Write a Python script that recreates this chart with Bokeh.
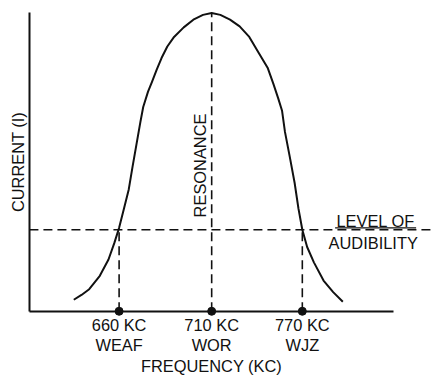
import math
from bokeh.plotting import figure
from bokeh.models import Range1d, FixedTicker
from bokeh.core.properties import value
from bokeh.embed import file_html
from bokeh.resources import INLINE

# Schematic resonance curve (arbitrary units: horizontal position, current)
curve_x = [46, 54, 62, 73, 82, 88, 93, 98, 103, 107, 111, 115, 118, 123, 127, 132, 137,
           143, 150, 160, 170, 180, 189,
           198, 208, 218, 228, 238, 247, 253, 258, 262, 265, 270, 275, 279, 283, 288,
           295, 305, 315, 325]
curve_y = [12, 17, 23, 37, 54, 71, 87, 107, 127, 151, 174, 197, 213, 229, 239, 252, 264,
           276, 286, 296, 304, 309, 311,
           309, 304, 297, 286, 269, 254, 237, 222, 209, 187, 161, 134, 107, 85, 67,
           51, 32, 20, 10]

station_x = [93, 189, 283]
freq_labels = ["660 KC", "710 KC", "770 KC"]
station_labels = ["WEAF", "WOR", "WJZ"]

resonance_x = 189
peak_current = 311
audibility_level = 85
x_axis_end = 378
level_line_end = 418

FONT = "Liberation Sans"
FS = "16.4px"
BLACK = "#111111"

p = figure(width=432, height=376, x_range=Range1d(-30, 418), y_range=Range1d(-68, 324),
           output_backend="svg", toolbar_location=None, min_border=0)
p.outline_line_color = None
p.grid.visible = False
p.background_fill_color = "white"
p.border_fill_color = "white"

# x axis
xa = p.xaxis[0]
xa.fixed_location = 0
xa.bounds = (0, x_axis_end)
xa.ticker = FixedTicker(ticks=station_x)
xa.major_label_overrides = {sx: f"{f}\n{s}" for sx, f, s in zip(station_x, freq_labels, station_labels)}
xa.major_tick_in = 0
xa.major_tick_out = 0
xa.minor_tick_line_color = None
xa.axis_line_width = 2
xa.axis_line_color = BLACK
xa.major_label_text_font = FONT
xa.major_label_text_font_size = FS
xa.major_label_text_color = BLACK
xa.major_label_text_line_height = 1.08
xa.major_label_standoff = 5
xa.axis_label = "FREQUENCY (KC)"
xa.axis_label_text_font = FONT
xa.axis_label_text_font_size = FS
xa.axis_label_text_font_style = "normal"
xa.axis_label_text_color = BLACK
xa.axis_label_standoff = 0

# y axis
ya = p.yaxis[0]
ya.fixed_location = 0
ya.bounds = (0, peak_current)
ya.ticker = FixedTicker(ticks=[])
ya.major_tick_in = 0
ya.major_tick_out = 0
ya.minor_tick_line_color = None
ya.axis_line_width = 2
ya.axis_line_color = BLACK
ya.axis_label = "CURRENT (I)"
ya.axis_label_text_font = FONT
ya.axis_label_text_font_size = FS
ya.axis_label_text_font_style = "normal"
ya.axis_label_text_color = BLACK
ya.axis_label_standoff = 3

# resonance curve
p.line(curve_x, curve_y, line_width=2, line_color=BLACK, line_join="round")

# dashed guide lines
p.segment(x0=[resonance_x], y0=[0], x1=[resonance_x], y1=[peak_current],
          line_width=1.6, line_color=BLACK, line_dash="9 5")
p.segment(x0=[0], y0=[audibility_level], x1=[level_line_end], y1=[audibility_level],
          line_width=1.6, line_color=BLACK, line_dash="9 5")
p.segment(x0=[station_x[0], station_x[2]], y0=[0, 0],
          x1=[station_x[0], station_x[2]], y1=[audibility_level, audibility_level],
          line_width=1.6, line_color=BLACK, line_dash="9 5")

# station dots
p.scatter(station_x, [0] * len(station_x), size=8, color=BLACK)

# LEVEL OF underline
p.segment(x0=[317], y0=[audibility_level + 2], x1=[401], y1=[audibility_level + 2],
          line_width=1.4, line_color=BLACK)

# texts
p.text(x=[359], y=[94], text=["LEVEL OF"], text_align="center", text_baseline="middle",
       text_font=value(FONT), text_font_size=FS, text_color=BLACK)
p.text(x=[356.5], y=[71.5], text=["AUDIBILITY"], text_align="center", text_baseline="middle",
       text_font=value(FONT), text_font_size=FS, text_color=BLACK)
p.text(x=[177], y=[152], text=["RESONANCE"], angle=math.pi / 2, text_align="center",
       text_baseline="middle", text_font=value(FONT), text_font_size=FS, text_color=BLACK)

open("out.html", "w").write(file_html(p, INLINE))
